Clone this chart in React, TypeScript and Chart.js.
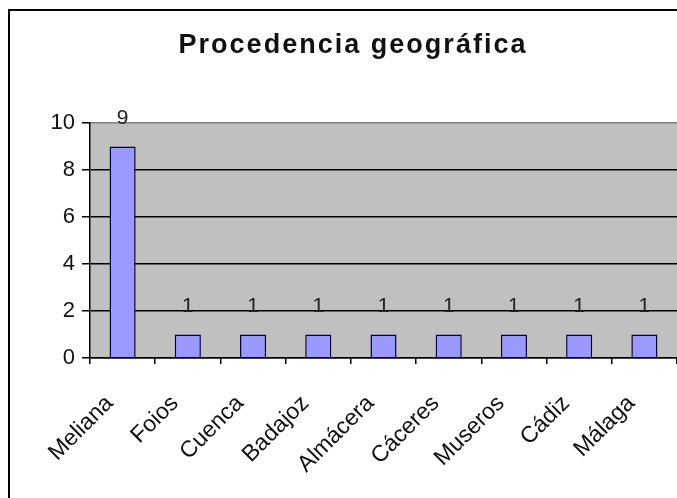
import React, { useEffect, useRef } from "react";
import { Chart, registerables } from "chart.js";
Chart.register(...registerables);

const TITLE = "Procedencia geográfica";
const categories = ["Meliana", "Foios", "Cuenca", "Badajoz", "Almácera", "Cáceres", "Museros", "Cádiz", "Málaga"];
const values = [9, 1, 1, 1, 1, 1, 1, 1, 1];
const yMin = 0;
const yMax = 10;
const yStep = 2;

const FONT = "Arial, 'Liberation Sans', sans-serif";

export default function App() {
  const ref = useRef<HTMLCanvasElement>(null);
  useEffect(() => {
    const canvas = ref.current!;
    const bgPlugin = {
      id: "bgframe",
      beforeDraw(chart: any) {
        const { ctx, chartArea: a } = chart;
        ctx.save();
        ctx.fillStyle = "#ffffff";
        ctx.fillRect(0, 0, chart.width, chart.height);
        ctx.fillStyle = "#C0C0C0";
        ctx.fillRect(a.left, a.top, a.right - a.left, a.bottom - a.top);
        ctx.strokeStyle = "#000";
        ctx.lineWidth = 2;
        ctx.beginPath();
        ctx.moveTo(9, chart.height + 4);
        ctx.lineTo(9, 10);
        ctx.lineTo(chart.width + 4, 10);
        ctx.stroke();
        // title with slight letter spacing
        ctx.font = `bold 27px ${FONT}`;
        ctx.fillStyle = "#111";
        ctx.textAlign = "left";
        ctx.textBaseline = "alphabetic";
        const chars = Array.from(TITLE);
        const widths = chars.map((c) => ctx.measureText(c).width);
        const targetW = 347;
        const raw = widths.reduce((s, w) => s + w, 0);
        const sp = Math.max(0, (targetW - raw) / (chars.length - 1));
        const total = raw + sp * (chars.length - 1);
        let x = 352 - total / 2;
        chars.forEach((c, i) => {
          ctx.fillText(c, x, 53);
          x += widths[i] + sp;
        });
        ctx.restore();
      },
    };
    const labelPlugin = {
      id: "vlabels",
      afterDatasetsDraw(chart: any) {
        const { ctx } = chart;
        const meta = chart.getDatasetMeta(0);
        ctx.save();
        ctx.font = `21px ${FONT}`;
        ctx.fillStyle = "#222";
        ctx.textAlign = "center";
        ctx.textBaseline = "alphabetic";
        meta.data.forEach((el: any, i: number) => {
          ctx.fillText(String(values[i]), el.x, el.y - 23);
        });
        ctx.restore();
      },
    };
    const chart = new Chart(canvas, {
      type: "bar",
      data: {
        labels: categories,
        datasets: [
          {
            data: values,
            backgroundColor: "#9999FF",
            borderColor: "#000033",
            borderWidth: 1.5,
            barPercentage: 0.4,
            categoryPercentage: 1,
          },
        ],
      },
      options: {
        animation: false,
        responsive: false,
        layout: { padding: { top: 123, left: 0, right: 0, bottom: 0 } },
        plugins: { legend: { display: false }, title: { display: false }, tooltip: { enabled: false } },
        scales: {
          x: {
            offset: true,
            grid: { offset: true, drawOnChartArea: false, drawTicks: true, tickLength: 6, color: "#000", tickColor: "#000", lineWidth: 1.5 },
            border: { color: "#000", width: 1.5 },
            ticks: {
              minRotation: 45,
              maxRotation: 45,
              autoSkip: false,
              color: "#111",
              font: { size: 23, family: FONT },
              padding: 26,
              labelOffset: -13,
            },
            afterFit: (s: any) => {
              s.height = 140;
              s.paddingLeft = 0;
              s.paddingRight = 0;
            },
          },
          y: {
            min: yMin,
            max: yMax,
            ticks: { stepSize: yStep, color: "#111", font: { size: 22, family: FONT }, padding: 7 },
            grid: {
              color: (c: any) => (c.tick && c.tick.value === yMax ? "#808080" : "#000"),
              tickColor: "#000",
              tickLength: 8,
              lineWidth: 1.5,
            },
            border: { color: "#000", width: 1.5 },
            afterFit: (s: any) => {
              s.width = 90;
            },
          },
        },
      },
      plugins: [bgPlugin, labelPlugin],
    });
    return () => chart.destroy();
  }, []);
  return (
    <div style={{ position: "absolute", left: 0, top: 0, width: 677, height: 498, overflow: "hidden", background: "#fff" }}>
      <canvas ref={ref} width={677} height={498} style={{ display: "block" }} />
    </div>
  );
}
